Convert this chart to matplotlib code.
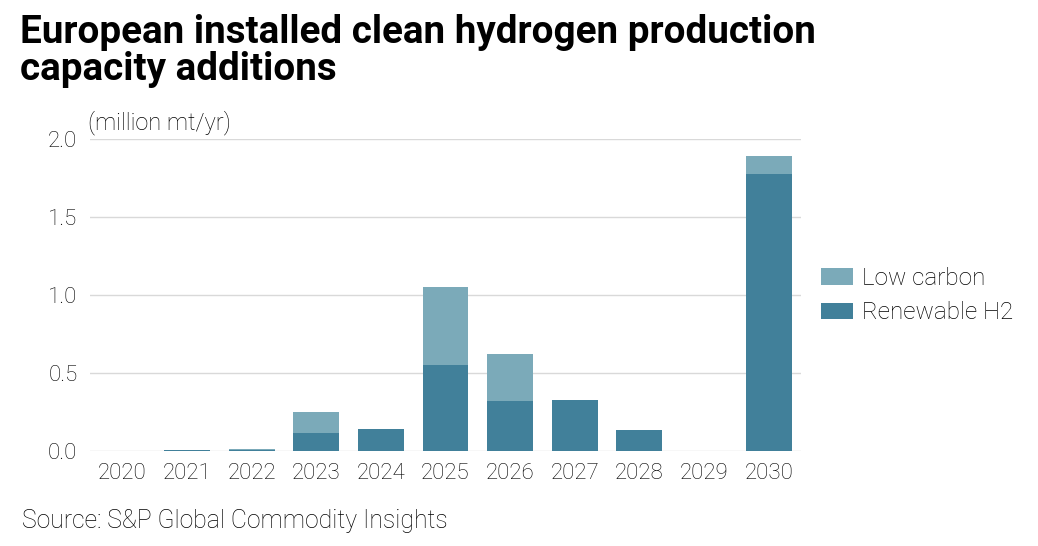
import matplotlib.pyplot as plt
import numpy as np

years = ['2020', '2021', '2022', '2023', '2024', '2025', '2026', '2027', '2028', '2029', '2030']
renewable = [0.0, 0.004, 0.006, 0.115, 0.14, 0.55, 0.32, 0.325, 0.135, 0.0, 1.775]
low_carbon = [0.0, 0.004, 0.004, 0.135, 0.0, 0.50, 0.30, 0.0, 0.0, 0.0, 0.115]

dark = '#41809A'
light = '#7BAAB9'

plt.rcParams['font.family'] = ['Roboto', 'DejaVu Sans']

fig = plt.figure(figsize=(10.38, 5.46), dpi=100)
ax = fig.add_axes([0.0867, 0.174, 0.685, 0.5714])

x = np.arange(len(years))
ax.bar(x, renewable, width=0.71, color=dark, label='Renewable H2', zorder=3)
ax.bar(x, low_carbon, width=0.71, bottom=renewable, color=light, label='Low carbon', zorder=3)

ax.set_xlim(-0.5, len(years) - 0.5)
ax.set_ylim(0, 2.0)
ax.set_yticks([0, 0.5, 1.0, 1.5, 2.0])
ax.set_yticklabels(['0.0', '0.5', '1.0', '1.5', '2.0'])
ax.set_xticks(x)
ax.set_xticklabels(years)
ax.grid(axis='y', color='#d9d9d9', lw=1, zorder=0)
for s in ax.spines.values():
    s.set_visible(False)
ax.tick_params(length=0, labelsize=16, colors='#000000', pad=9)
for t in ax.get_xticklabels() + ax.get_yticklabels():
    t.set_fontweight('light')

h, l = ax.get_legend_handles_labels()
leg = fig.legend(h[::-1], l[::-1], loc='upper left', bbox_to_anchor=(0.770, 0.551),
                 frameon=False, fontsize=17.5, handlelength=1.33, handleheight=0.68,
                 labelspacing=0.47, handletextpad=0.34)
for t in leg.get_texts():
    t.set_fontweight('light')
    t.set_color('#000000')

fig.text(0.019, 0.975, 'European installed clean hydrogen production\ncapacity additions',
         fontsize=27.8, fontweight='bold', va='top', ha='left', linespacing=1.0)
fig.text(0.085, 0.775, '(million mt/yr)', fontsize=17, fontweight='light', color='#000000', va='center')
fig.text(0.021, 0.045, 'Source: S&P Global Commodity Insights', fontsize=17.8,
         fontweight='light', color='#000000', va='center')

plt.savefig('out.png', dpi=100)
